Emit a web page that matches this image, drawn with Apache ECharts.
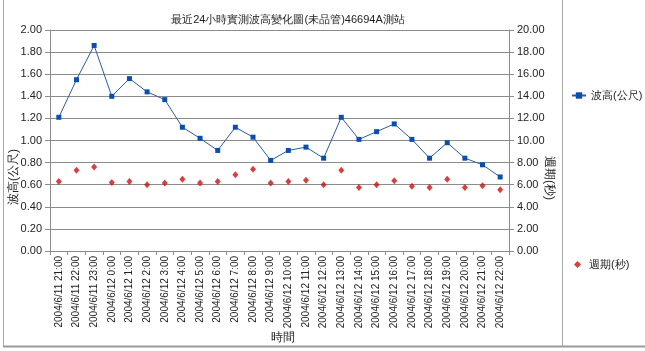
<!DOCTYPE html>
<html>
<head>
<meta charset="utf-8">
<script src="https://cdn.jsdelivr.net/npm/echarts@6/dist/echarts.min.js"></script>
<style>
    html, body { margin: 0; padding: 0; background: #fff; }
    #chart { width: 645px; height: 351px; }
</style>
</head>
<body>
<div id="chart"></div>
<script>
// 時間 (x 軸)
var times = ['2004/6/11 21:00', '2004/6/11 22:00', '2004/6/11 23:00',
    '2004/6/12 0:00', '2004/6/12 1:00', '2004/6/12 2:00', '2004/6/12 3:00',
    '2004/6/12 4:00', '2004/6/12 5:00', '2004/6/12 6:00', '2004/6/12 7:00',
    '2004/6/12 8:00', '2004/6/12 9:00', '2004/6/12 10:00', '2004/6/12 11:00',
    '2004/6/12 12:00', '2004/6/12 13:00', '2004/6/12 14:00', '2004/6/12 15:00',
    '2004/6/12 16:00', '2004/6/12 17:00', '2004/6/12 18:00', '2004/6/12 19:00',
    '2004/6/12 20:00', '2004/6/12 21:00', '2004/6/12 22:00'];
// 波高(公尺)
var waveHeight = [1.21, 1.55, 1.86, 1.40, 1.56, 1.44, 1.37, 1.12, 1.02, 0.91,
    1.12, 1.03, 0.82, 0.91, 0.94, 0.84, 1.21, 1.01, 1.08, 1.15,
    1.01, 0.84, 0.98, 0.84, 0.78, 0.67];
// 週期(秒)
var wavePeriod = [6.3, 7.3, 7.6, 6.2, 6.3, 6.0, 6.15, 6.5, 6.15, 6.3,
    6.9, 7.4, 6.15, 6.3, 6.4, 6.0, 7.3, 5.75, 6.0, 6.35,
    5.85, 5.75, 6.5, 5.75, 5.9, 5.55];

var font = 'Liberation Sans, Arial, sans-serif';
var txt = '#222';
var gridColor = '#8c8c8c';

var myChart = echarts.init(document.getElementById('chart'));
var option = {
    backgroundColor: '#fff',
    animation: false,
    title: {
        text: '最近24小時實測波高變化圖(未品管)46694A測站',
        left: 283,
        top: 9,
        textAlign: 'center',
        textStyle: { fontSize: 11, fontWeight: 'normal', color: txt, fontFamily: font }
    },
    legend: [
        {
            data: ['波高(公尺)'],
            left: 566,
            top: 85,
            itemWidth: 14,
            itemHeight: 8,
            itemGap: 4,
            textStyle: { fontSize: 11, color: txt, fontFamily: font }
        },
        {
            data: ['週期(秒)'],
            left: 569,
            top: 254,
            itemWidth: 7,
            itemHeight: 7,
            textStyle: { fontSize: 11, color: txt, fontFamily: font, padding: [0, 0, 0, 3] }
        }
    ],
    grid: {
        left: 50,
        right: 136,
        top: 30,
        bottom: 100
    },
    xAxis: {
        type: 'category',
        data: times,
        boundaryGap: true,
        axisLine: { lineStyle: { color: gridColor } },
        axisTick: { show: true, length: 4, lineStyle: { color: gridColor } },
        axisLabel: {
            rotate: 90,
            interval: 0,
            margin: 5,
            fontSize: 10,
            color: txt,
            fontFamily: font
        },
        splitLine: { show: false }
    },
    yAxis: [
        {
            type: 'value',
            min: 0,
            max: 2,
            interval: 0.2,
            axisLine: { show: true, lineStyle: { color: gridColor } },
            axisTick: { show: true, length: 5, lineStyle: { color: gridColor } },
            axisLabel: {
                margin: 8,
                fontSize: 11,
                color: txt,
                fontFamily: font,
                formatter: function (v) { return v.toFixed(2); }
            },
            splitLine: { show: true, lineStyle: { color: gridColor, width: 1 } }
        },
        {
            type: 'value',
            min: 0,
            max: 20,
            interval: 2,
            position: 'right',
            axisLine: { show: true, lineStyle: { color: gridColor } },
            axisTick: { show: true, length: 5, lineStyle: { color: gridColor } },
            axisLabel: {
                margin: 8,
                fontSize: 11,
                color: txt,
                fontFamily: font,
                formatter: function (v) { return v.toFixed(2); }
            },
            splitLine: { show: false }
        }
    ],
    graphic: [
        // 外框
        { type: 'line', shape: { x1: 3.5, y1: 0, x2: 3.5, y2: 346 }, style: { stroke: '#aaa', lineWidth: 1 } },
        { type: 'line', shape: { x1: 3, y1: 346.5, x2: 645, y2: 346.5 }, style: { stroke: '#999', lineWidth: 2 } },
        { type: 'line', shape: { x1: 562.5, y1: 0, x2: 562.5, y2: 346 }, style: { stroke: '#aaa', lineWidth: 1 } },
        // 軸名稱
        {
            type: 'text', x: 14, y: 177, rotation: Math.PI / 2,
            style: { text: '波高(公尺)', fill: txt, fontSize: 12, fontFamily: font, textAlign: 'center', textVerticalAlign: 'middle' }
        },
        {
            type: 'text', x: 549, y: 178, rotation: -Math.PI / 2,
            style: { text: '週期(秒)', fill: txt, fontSize: 12, fontFamily: font, textAlign: 'center', textVerticalAlign: 'middle' }
        },
        {
            type: 'text', x: 283, y: 338,
            style: { text: '時間', fill: txt, fontSize: 12, fontFamily: font, textAlign: 'center', textVerticalAlign: 'middle' }
        }
    ],
    series: [
        {
            name: '波高(公尺)',
            type: 'line',
            yAxisIndex: 0,
            data: waveHeight,
            symbol: 'rect',
            symbolSize: 5,
            itemStyle: { color: '#0a4fb0' },
            lineStyle: { color: '#2c5aa0', width: 1 }
        },
        {
            name: '週期(秒)',
            type: 'scatter',
            yAxisIndex: 1,
            data: wavePeriod,
            symbol: 'diamond',
            symbolSize: [6, 7],
            itemStyle: { color: '#cc1010' }
        }
    ]
};
myChart.setOption(option);
</script>
</body>
</html>
